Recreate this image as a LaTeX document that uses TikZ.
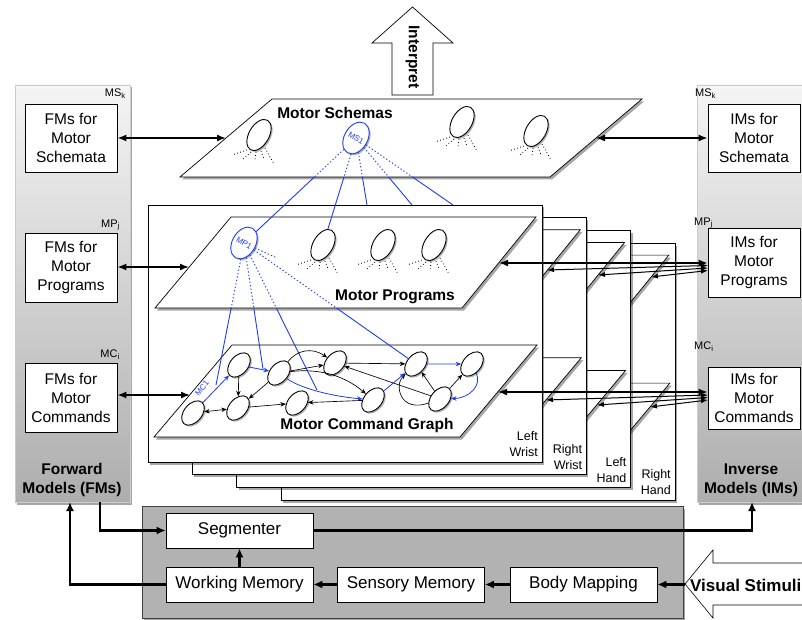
\documentclass[tikz,border=0pt]{standalone}
\usepackage{fontspec}
\setmainfont{Liberation Sans}
\usetikzlibrary{shapes.geometric,arrows.meta,shadows,calc}
\definecolor{myblue}{RGB}{30,60,245}
\newcommand\ellfan[1]{\foreach \sx/\sy/\ex/\ey in {-12/15/-27/20,-8/17/-16/24,-3/17/-4/25,2/16/5/24,6/13/15/29}{\draw[fandot] ($(#1)+(\sx,\sy)$) -- ($(#1)+(\ex,\ey)$);}}
\begin{document}
\begin{tikzpicture}[x=1pt,y=-1pt,
  shad/.style={drop shadow={shadow xshift=2pt,shadow yshift=-2.5pt,opacity=.35,fill=black}},
  eshad/.style={drop shadow={shadow xshift=1.5pt,shadow yshift=-1.5pt,opacity=.3,fill=black}},
  panel/.style={draw=black!20,line width=.5pt,top color=black!4,bottom color=black!32,shad},
  boxst/.style={draw,fill=white,line width=.7pt,shad},
  plane/.style={draw,fill=white,line width=.7pt,shad},
  txtbox/.style={draw,fill=white,line width=.7pt,align=center,inner sep=0pt,minimum width=92pt,font=\fontsize{15.5}{19}\selectfont},
  bold/.style={font=\fontsize{15.5}{19}\selectfont\bfseries,align=center,inner sep=0pt},
  sublab/.style={font=\fontsize{11}{11}\selectfont,inner sep=0pt},
  boxlab/.style={font=\fontsize{12.5}{16}\selectfont,align=right,inner sep=0pt},
  ell/.style={ellipse,draw,fill=white,line width=.9pt,minimum width=20pt,minimum height=34pt,inner sep=0pt,rotate=-30,eshad},
  bell/.style={ell,draw=myblue,text=myblue,font=\fontsize{8}{8}\selectfont},
  mcell/.style={ellipse,draw,fill=white,line width=.9pt,minimum width=18pt,minimum height=28pt,inner sep=0pt,rotate=-40,eshad},
  fandot/.style={line width=.8pt,dash pattern=on .8pt off 2.4pt},
  bdot/.style={myblue,line width=.9pt,dash pattern=on 1.3pt off 2.2pt},
  bsol/.style={myblue,line width=.9pt},
  ge/.style={-{Stealth[length=5.5pt,width=4.5pt]},line width=.65pt},
  gde/.style={{Stealth[length=5.5pt,width=4.5pt]}-{Stealth[length=5.5pt,width=4.5pt]},line width=.65pt},
  gbe/.style={ge,myblue,line width=.8pt},
  bigdbl/.style={{Latex[length=9pt,width=7pt]}-{Latex[length=9pt,width=7pt]},line width=1.6pt},
  meddbl/.style={{Latex[length=7pt,width=5pt]}-{Latex[length=7pt,width=5pt]},line width=1pt},
  thickar/.style={-{Latex[length=9pt,width=8pt]},line width=2.2pt},
  lowbox/.style={draw,fill=white,line width=.6pt,minimum width=147pt,minimum height=35pt,inner sep=0pt,font=\fontsize{17}{20}\selectfont},
]
\useasboundingbox (0,0) rectangle (802,620);
\clip (0,0) rectangle (802,620);

% side panels
\draw[panel] (15,85) rectangle (130,502);
\draw[panel] (697,85) rectangle (815,502);

% interpret arrow
\draw[fill=white,line width=.7pt] (392,95) -- (392,43) -- (372,43) -- (412.5,7) -- (453,43) -- (433,43) -- (433,95) -- cycle;
\node[bold,rotate=-90] (interp) at (412.5,57) {Interpret};

% stack of boxes
\foreach \k/\la/\lb in {3/Right/Hand,2/Left/Hand,1/Right/Wrist,0/Left/Wrist}{
  \begin{scope}[shift={({44.3*\k},{12.7*\k})}]
    \draw[boxst] (148,205) rectangle (542,462);
    \draw[plane] (231,217) -- (536,217) -- (462,308) -- (155,308) -- cycle;
    \draw[plane] (232,345) -- (537,345) -- (460,437) -- (154,437) -- cycle;
    \node[boxlab,anchor=south east] (lab\k) at (538,457) {\la\\\lb};
  \end{scope}
}

% motor schemas plane
\draw[plane] (272,99) -- (642,99) -- (550,177) -- (180,177) -- cycle;

% fans
\coordinate (fs1) at (259,135);
\coordinate (fs3) at (462,122);
\coordinate (fs4) at (536,131);
\coordinate (fp2) at (323,245);
\coordinate (fp3) at (383,245);
\coordinate (fp4) at (434,245);
\ellfan{fs1}\ellfan{fs3}\ellfan{fs4}\ellfan{fp2}\ellfan{fp3}\ellfan{fp4}

% ellipses
\node[ell] (s1) at (259,135) {};
\node[bell] (ms1) at (356,138) {MS1};
\node[ell] (s3) at (462,122) {};
\node[ell] (s4) at (536,131) {};
\node[bell] (mp1) at (244,243) {MP1};
\node[ell] (p2) at (323,245) {};
\node[ell] (p3) at (383,245) {};
\node[ell] (p4) at (434,245) {};

\node[mcell] (n1) at (193,413) {};
\node[mcell] (n2) at (239,365) {};
\node[mcell] (n3) at (238,408) {};
\node[mcell] (n4) at (279,373) {};
\node[mcell] (n5) at (335,363) {};
\node[mcell] (n6) at (297,403) {};
\node[mcell] (n7) at (373,400) {};
\node[mcell] (n8) at (416,364) {};
\node[mcell] (n9) at (472,364) {};
\node[mcell] (n10) at (440,399) {};

% blue links
\coordinate (t3) at (367,205);
\coordinate (t4) at (412,205);
\coordinate (t5) at (453,205);
\coordinate (c1) at (216,385);
\coordinate (c2) at (263,369);
\coordinate (c3) at (317,390);
\coordinate (c5) at (277,258);
\begin{scope}
  \clip (0,0) rectangle (802,177.3);
  \foreach \t in {mp1,p2,t3,t4,t5} \draw[bdot] (ms1) -- (\t);
\end{scope}
\begin{scope}
  \clip (0,177.3) rectangle (802,620);
  \foreach \t in {mp1,p2,t3,t4,t5} \draw[bsol] (ms1) -- (\t);
\end{scope}
\draw[bdot] (mp1) -- (c5);
\begin{scope}
  \clip (0,0) rectangle (802,308.3);
  \foreach \t in {c1,c2,c3,n8} \draw[bdot] (mp1) -- (\t);
\end{scope}
\begin{scope}
  \clip (0,308.3) rectangle (802,620);
  \foreach \t in {c1,c2,c3,n8} \draw[bsol] (mp1) -- (\t);
\end{scope}

% motor command graph edges
\draw[gde] (n1) -- (n3);
\draw[ge] (n2) -- (n3);
\draw[ge] (n4) -- (n3);
\draw[ge] (n3) -- (n6);
\draw[ge] (n7) -- (n6);
\draw[ge] (n4) -- (n5);
\draw[ge] (n4) .. controls (297,350) and (312,347) .. (n5);
\draw[ge] (n4) .. controls (320,368) and (345,376) .. (n7);
\draw[ge] (n5) -- (n8);
\draw[ge] (n10) -- (n5);
\draw[ge] (n10) -- (n8);
\draw[ge] (n10) .. controls (400,413) and (394,385) .. (n8);
\draw[ge] (n10) -- (n9);
\draw[gbe] (n1) -- (n2);
\draw[gbe] (n2) -- (n4);
\draw[gbe] (n4) .. controls (300,388) and (330,396) .. (n7);
\draw[gbe] (n7) -- (n8);
\draw[gbe] (n8) -- (n9);
\draw[gbe] (n9) .. controls (482,385) and (470,398) .. (n10);
\node[text=myblue,rotate=52,font=\fontsize{8}{8}\selectfont,inner sep=0pt] (mc1l) at (202,388) {MC1};

% plane labels
\node[bold] (msl) at (335,113) {Motor Schemas};
\node[bold] (mpl) at (395,297) {Motor Programs};
\node[bold] (mcl) at (367,425) {Motor Command Graph};

% model boxes
\node[txtbox,minimum height=68pt] (fms) at (71,138) {FMs for\\Motor\\Schemata};
\node[txtbox,minimum height=69pt] (fmp) at (71,267.5) {FMs for\\Motor\\Programs};
\node[txtbox,minimum height=69pt] (fmc) at (71,397.5) {FMs for\\Motor\\Commands};
\node[txtbox,minimum height=68pt] (ims) at (754,138) {IMs for\\Motor\\Schemata};
\node[txtbox,minimum height=69pt] (imp) at (754,262.5) {IMs for\\Motor\\Programs};
\node[txtbox,minimum height=62pt] (imc) at (754,398) {IMs for\\Motor\\Commands};
\node[bold] (fml) at (72,480) {Forward\\Models (FMs)};
\node[bold] (iml) at (751,480) {Inverse\\Models (IMs)};
\node[sublab,anchor=east] (lmsk) at (126,94) {MS\textsubscript{k}};
\node[sublab,anchor=east] (lmpj) at (120,225) {MP\textsubscript{j}};
\node[sublab,anchor=east] (lmci) at (120,355) {MC\textsubscript{i}};
\node[sublab,anchor=west] (rmsk) at (695,94) {MS\textsubscript{k}};
\node[sublab,anchor=west] (rmpj) at (694,223) {MP\textsubscript{j}};
\node[sublab,anchor=west] (rmci) at (694,347) {MC\textsubscript{i}};

% side arrows
\coordinate (msL) at (226,138);
\coordinate (msR) at (596,138);
\coordinate (mpL) at (189,267);
\coordinate (mpR) at (499,263);
\coordinate (mcL) at (190,395);
\coordinate (mcR) at (498,392);
\draw[bigdbl] (fms.east |- msL) -- (msL);
\draw[bigdbl] (msR) -- (ims.west |- msR);
\draw[bigdbl] (fmp.east |- mpL) -- (mpL);
\draw[bigdbl] (mpR) -- (imp.west |- mpR);
\draw[bigdbl] (fmc.east |- mcL) -- (mcL);
\draw[bigdbl] (mcR) -- (imc.west |- mcR);
\coordinate (cp1) at (547,270);
\coordinate (cp2) at (598,275);
\coordinate (cp3) at (651,277);
\coordinate (ip1) at (708,265.5);
\coordinate (ip2) at (708,268);
\coordinate (ip3) at (708,270.5);
\coordinate (cc1) at (546,400);
\coordinate (cc2) at (597,405);
\coordinate (cc3) at (650,407);
\coordinate (ic1) at (708,395);
\coordinate (ic2) at (708,397.5);
\coordinate (ic3) at (708,400);
\foreach \i in {1,2,3}{
  \draw[meddbl] (cp\i) -- (ip\i);
  \draw[meddbl] (cc\i) -- (ic\i);
}

% bottom block
\draw[fill=black!30,draw=black!75,line width=.6pt,shad] (142,506) rectangle (683,618);
\node[lowbox] (seg) at (239.5,530.5) {Segmenter};
\node[lowbox] (wm) at (239.5,584.5) {Working Memory};
\node[lowbox] (sm) at (411,584.5) {Sensory Memory};
\node[lowbox] (bm) at (583.5,584.5) {Body Mapping};
\draw[fill=white,line width=.6pt] (685,584) -- (713,550) -- (713,563) -- (815,563) -- (815,605) -- (713,605) -- (713,618) -- cycle;
\node[font=\fontsize{17}{20}\selectfont\bfseries,anchor=west,inner sep=0pt] (vs) at (690,585) {Visual Stimuli};
\coordinate (vtip) at (685,584.5);
\coordinate (fmout) at (100,502);
\coordinate (fmin) at (70,502);
\coordinate (imin) at (752,502);
\draw[thickar] (fmout) |- (seg.west);
\draw[thickar] (wm.west) -| (fmin);
\draw[thickar] (wm.north) -- (seg.south);
\draw[thickar] (sm.west) -- (wm.east);
\draw[thickar] (bm.west) -- (sm.east);
\draw[thickar] (vtip) -- (bm.east);
\draw[thickar] (seg.east) -| (imin);
\end{tikzpicture}
\end{document}
